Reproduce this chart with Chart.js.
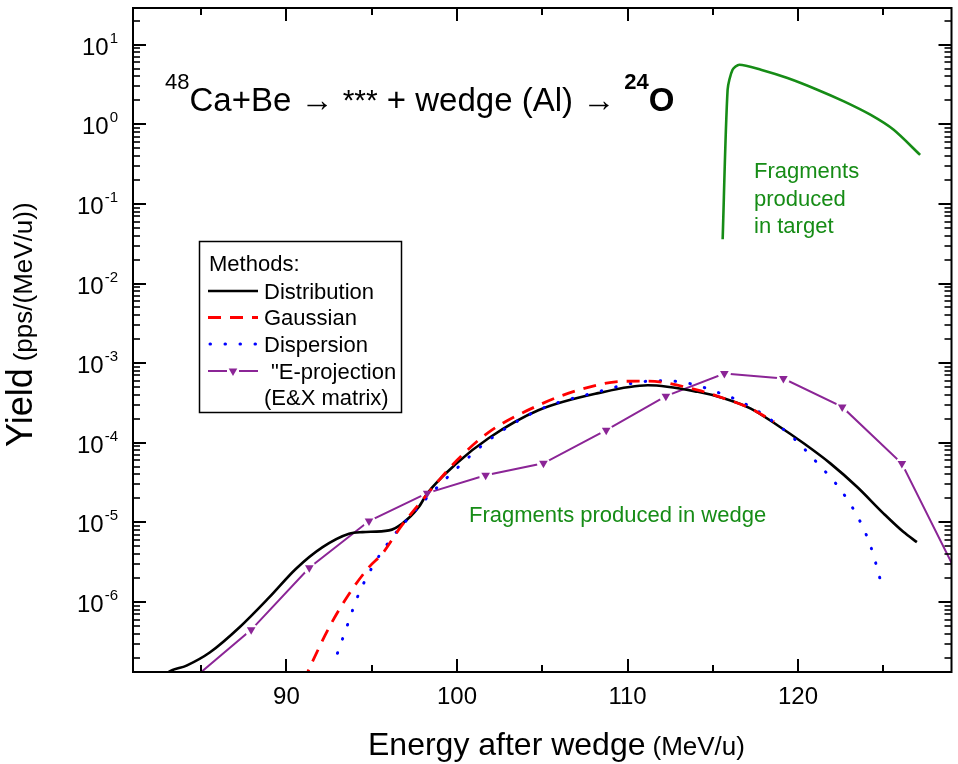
<!DOCTYPE html>
<html><head><meta charset="utf-8">
<script src="https://cdn.jsdelivr.net/npm/chart.js@4.4.1/dist/chart.umd.min.js"></script>
<style>html,body{margin:0;padding:0;background:#fff;}canvas{display:block;}</style>
</head><body>
<canvas id="c" width="958" height="764"></canvas>
<script>
// ---------- data ----------
const distE = [82.5, 83.06, 84.14, 85.50, 87.25, 89.00, 90.56, 92.12, 93.67, 94.45, 96.01, 96.79, 97.76, 98.25, 99.98, 101.85, 104.77, 108.28, 111.2, 114.12, 115.68, 117.23, 118.79, 120.35, 121.91, 123.47, 125.02, 126.19, 126.97];
const distY = [9.9e-8, 1.31e-7, 1.59e-7, 2.32e-7, 4.82e-7, 1.15e-6, 2.62e-6, 4.89e-6, 7.21e-6, 7.55e-6, 7.93e-6, 9.64e-6, 1.56e-5, 2.30e-5, 5.52e-5, 1.14e-4, 2.56e-4, 4.20e-4, 5.28e-4, 4.36e-4, 3.60e-4, 2.69e-4, 1.66e-4, 9.77e-5, 5.47e-5, 2.78e-5, 1.29e-5, 7.55e-6, 5.65e-6];

const gaussE = [91.0, 91.24, 92.51, 93.68, 94.84, 95.62, 96.69, 97.96, 100.0, 101.85, 104.77, 107.1, 109.6, 111.2, 114.12, 115.68, 117.23, 118.6];
const gaussY = [1.0e-7, 1.31e-7, 4.82e-7, 1.27e-6, 2.74e-6, 4.04e-6, 8.7e-6, 1.89e-5, 6.03e-5, 1.35e-4, 2.95e-4, 4.57e-4, 5.89e-4, 5.96e-4, 4.57e-4, 3.60e-4, 2.69e-4, 1.83e-4];

const dispE = [92.99, 93.58, 94.16, 94.98, 96.07, 97.47, 98.25, 100.0, 101.85, 104.77, 108.28, 110.6, 112.2, 114.12, 114.80, 116.46, 118.11, 119.67, 121.13, 122.49, 123.56, 124.24, 124.73, 124.98];
const dispY = [2.27e-7, 5.16e-7, 1.15e-6, 2.62e-6, 5.94e-6, 1.35e-5, 2.05e-5, 4.79e-5, 1.07e-4, 2.57e-4, 4.37e-4, 5.75e-4, 6.03e-4, 5.25e-4, 4.67e-4, 3.43e-4, 2.15e-4, 1.18e-4, 5.57e-5, 2.58e-5, 1.11e-5, 5.14e-6, 2.26e-6, 1.40e-6];

const projE = [84.5, 87.93, 91.34, 94.84, 98.25, 101.68, 105.07, 108.75, 112.25, 115.68, 119.14, 122.59, 126.09, 129.5];
const projY = [1.07e-7, 4.47e-7, 2.69e-6, 1.04e-5, 2.33e-5, 3.90e-5, 5.52e-5, 1.44e-4, 3.85e-4, 7.41e-4, 6.41e-4, 2.82e-4, 5.47e-5, 1.9e-6];

const targetE = [115.58, 115.87, 116.16, 116.56, 117.82, 119.38, 121.13, 122.69, 124.24, 125.61, 127.16];
const targetY = [0.036, 2.72, 4.85, 5.60, 4.85, 3.81, 2.72, 1.94, 1.32, 0.853, 0.413];

// ---------- axes / ticks / texts ----------
const xMin = 81, xMax = 129;
const yMin = 1.32e-7, yMax = 28.9;
const xMajorTicks = [90, 100, 110, 120];
const xMinorTicks = [85, 95, 105, 115, 125];
const yDecadeExps = [-6, -5, -4, -3, -2, -1, 0, 1];
const yMinorMantissas = [2, 3, 4, 5, 6, 7, 8, 9];
const legendTitle = 'Methods:';
const legendLabels = ['Distribution', 'Gaussian', 'Dispersion', '"E-projection'];
const legendExtra = '(E&X matrix)';
const targetNote = ['Fragments', 'produced', 'in target'];
const wedgeNote = 'Fragments produced in wedge';
const xTitleMain = 'Energy after wedge', xTitleUnit = '(MeV/u)';
const yTitleMain = 'Yield', yTitleUnit = '(pps/(MeV/u))';

const BLACK = '#000000', RED = '#ff0000', BLUE = '#0000ff', PURPLE = '#8b2596', GREEN = '#168c16';
const FONT = "'Liberation Sans', Arial, sans-serif";

const pts = (xs, ys) => xs.map((x, i) => ({x, y: ys[i]}));

const decor = {
  id: 'decor',
  afterDraw(chart) {
    const {ctx, chartArea: a, scales: {x, y}} = chart;
    ctx.save();
    ctx.strokeStyle = BLACK; ctx.fillStyle = BLACK;
    // frame
    ctx.lineWidth = 2;
    ctx.strokeRect(a.left, a.top, a.right - a.left, a.bottom - a.top);
    const hl = (x1, y1, x2, y2, lw) => { ctx.lineWidth = lw; ctx.beginPath(); ctx.moveTo(x1, y1); ctx.lineTo(x2, y2); ctx.stroke(); };
    // x ticks
    xMajorTicks.forEach(v => { const p = Math.round(x.getPixelForValue(v)); hl(p, a.bottom, p, a.bottom - 13, 2); hl(p, a.top, p, a.top + 13, 2); });
    xMinorTicks.forEach(v => { const p = Math.round(x.getPixelForValue(v)); hl(p, a.bottom, p, a.bottom - 7, 2); hl(p, a.top, p, a.top + 7, 2); });
    // y ticks
    for (let e = -8; e <= 2; e++) {
      const dv = Math.pow(10, e);
      if (dv >= yMin && dv <= yMax) { const p = Math.round(y.getPixelForValue(dv)); hl(a.left, p, a.left + 13, p, 2); hl(a.right, p, a.right - 13, p, 2); }
      yMinorMantissas.forEach(m => {
        const v = m * dv;
        if (v >= yMin && v <= yMax) { const p = Math.round(y.getPixelForValue(v)); hl(a.left, p, a.left + 7, p, 1.6); hl(a.right, p, a.right - 7, p, 1.6); }
      });
    }
    // x tick labels
    ctx.font = '24px ' + FONT; ctx.textAlign = 'center'; ctx.textBaseline = 'alphabetic';
    xMajorTicks.forEach(v => ctx.fillText(String(v), x.getPixelForValue(v), 704));
    // y tick labels 10^n
    yDecadeExps.forEach(e => {
      const p = y.getPixelForValue(Math.pow(10, e));
      const sup = String(e);
      ctx.font = '15px ' + FONT; const sw = ctx.measureText(sup).width;
      ctx.textAlign = 'left';
      const right = 118;
      ctx.fillText(sup, right - sw, p - 2);
      ctx.font = '24px ' + FONT; ctx.textAlign = 'right';
      ctx.fillText('10', right - sw - 1, p + 10);
    });
    // x title
    ctx.textAlign = 'left';
    ctx.font = '32px ' + FONT;
    let w1 = ctx.measureText(xTitleMain).width;
    ctx.fillText(xTitleMain, 368, 755);
    ctx.font = '26px ' + FONT;
    ctx.fillText(xTitleUnit, 368 + w1 + 7, 755);
    // y title
    ctx.save();
    ctx.translate(32, 447); ctx.rotate(-Math.PI / 2);
    ctx.font = '36px ' + FONT; ctx.textAlign = 'left';
    w1 = ctx.measureText(yTitleMain).width;
    ctx.fillText(yTitleMain, 0, 0);
    ctx.font = '26px ' + FONT;
    ctx.fillText(yTitleUnit, w1 + 7, 0);
    ctx.restore();
    // reaction title
    let cx = 165; const base = 111, supBase = 89;
    const piece = (t, f, yb) => { ctx.font = f; ctx.fillText(t, cx, yb); cx += ctx.measureText(t).width; };
    ctx.textAlign = 'left';
    piece('48', '22px ' + FONT, supBase);
    piece('Ca+Be \u2192 ', '33px ' + FONT, base);
    piece('***', '30px ' + FONT, base - 1);
    piece(' + wedge (Al) \u2192 ', '33px ' + FONT, base);
    piece('24', 'bold 22px ' + FONT, supBase);
    piece('O', 'bold 33px ' + FONT, base);
    // green notes
    ctx.fillStyle = GREEN; ctx.font = '22px ' + FONT;
    targetNote.forEach((t, i) => ctx.fillText(t, 754, 178 + i * 27.5));
    ctx.fillText(wedgeNote, 469, 522);
    // legend
    ctx.fillStyle = BLACK; ctx.strokeStyle = BLACK; ctx.lineWidth = 1.5;
    ctx.strokeRect(199.5, 241.5, 202, 171);
    ctx.font = '22px ' + FONT;
    ctx.fillText(legendTitle, 209, 271);
    const rows = [291, 317.5, 344, 371];
    const bases = [298.5, 325, 351.5, 378.5];
    const seg = (yy, col, lw, dash, cap, x1 = 208, x2 = 258) => {
      ctx.save(); ctx.strokeStyle = col; ctx.lineWidth = lw; ctx.setLineDash(dash); ctx.lineCap = cap;
      ctx.beginPath(); ctx.moveTo(x1, yy); ctx.lineTo(x2, yy); ctx.stroke(); ctx.restore();
    };
    seg(rows[0], BLACK, 2.6, [], 'butt');
    seg(rows[1], RED, 2.8, [13, 9], 'butt');
    seg(rows[2], BLUE, 3, [0.5, 14.5], 'round', 210, 258);
    seg(rows[3], PURPLE, 2, [], 'butt', 208, 227);
    seg(rows[3], PURPLE, 2, [], 'butt', 239, 258);
    ctx.fillStyle = PURPLE; ctx.beginPath();
    ctx.moveTo(228.7, rows[3] - 2.5); ctx.lineTo(237.3, rows[3] - 2.5); ctx.lineTo(233, rows[3] + 5); ctx.closePath(); ctx.fill();
    ctx.fillStyle = BLACK;
    ctx.fillText(legendLabels[0], 264, bases[0]);
    ctx.fillText(legendLabels[1], 264, bases[1]);
    ctx.fillText(legendLabels[2], 264, bases[2]);
    ctx.fillText(legendLabels[3], 271, bases[3]);
    ctx.fillText(legendExtra, 264, 405);
    ctx.restore();
  }
};

new Chart(document.getElementById('c'), {
  type: 'line',
  data: {
    datasets: [
      { label: 'E-projection markers', data: pts(projE, projY), showLine: false, pointStyle: 'triangle', pointRotation: 180, pointRadius: 5, pointBackgroundColor: PURPLE, pointBorderWidth: 0, order: 0 },
      { label: legendLabels[1], data: pts(gaussE, gaussY), borderColor: RED, borderWidth: 2.8, borderDash: [13, 9], cubicInterpolationMode: 'monotone', pointRadius: 0, order: 1 },
      { label: legendLabels[2], data: pts(dispE, dispY), borderColor: BLUE, borderWidth: 3, borderDash: [0.5, 14.5], borderCapStyle: 'round', cubicInterpolationMode: 'monotone', pointRadius: 0, order: 2 },
      { label: legendLabels[0], data: pts(distE, distY), borderColor: BLACK, borderWidth: 2.6, cubicInterpolationMode: 'monotone', pointRadius: 0, order: 3 },
      { label: 'Fragments produced in target', data: pts(targetE, targetY), borderColor: GREEN, borderWidth: 2.6, tension: 0.25, pointRadius: 0, order: 4 },
      { label: 'gap', data: pts(projE, projY), showLine: false, pointRadius: 6.5, pointBackgroundColor: '#ffffff', pointBorderWidth: 0, order: 5 },
      { label: legendLabels[3], data: pts(projE, projY), borderColor: PURPLE, borderWidth: 2, tension: 0, pointRadius: 0, order: 6 }
    ]
  },
  options: {
    responsive: false, animation: false,
    layout: { padding: { left: 133, top: 8, right: 4, bottom: 92 } },
    plugins: { legend: { display: false }, tooltip: { enabled: false } },
    scales: {
      x: { type: 'linear', min: xMin, max: xMax, display: false },
      y: { type: 'logarithmic', min: yMin, max: yMax, display: false }
    }
  },
  plugins: [decor]
});
</script>
</body></html>
